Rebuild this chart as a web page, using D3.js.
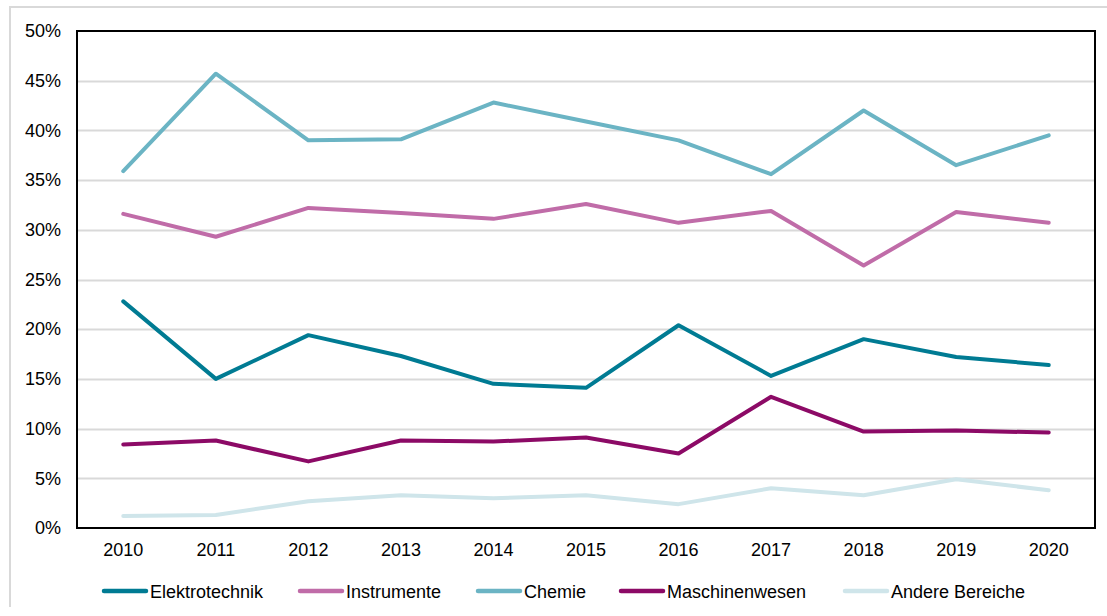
<!DOCTYPE html>
<html lang="de">
<head>
<meta charset="UTF-8">
<title>Anteile nach Bereichen 2010-2020</title>
<script src="https://d3js.org/d3.v7.min.js"></script>
<style>
html, body { margin: 0; padding: 0; background: #fff; }
svg { display: block; font-family: "Liberation Sans", Arial, sans-serif; }
</style>
</head>
<body>
<script>
const years = [2010, 2011, 2012, 2013, 2014, 2015, 2016, 2017, 2018, 2019, 2020];
const yTicks = [0, 5, 10, 15, 20, 25, 30, 35, 40, 45, 50];

const elektrotechnik = [22.8, 15.0, 19.4, 17.3, 14.5, 14.1, 20.4, 15.3, 19.0, 17.2, 16.4];
const instrumente    = [31.6, 29.3, 32.2, 31.7, 31.1, 32.6, 30.7, 31.9, 26.4, 31.8, 30.7];
const chemie         = [35.9, 45.7, 39.0, 39.1, 42.8, 40.9, 39.0, 35.6, 42.0, 36.5, 39.5];
const maschinenwesen = [8.4, 8.8, 6.7, 8.8, 8.7, 9.1, 7.5, 13.2, 9.7, 9.8, 9.6];
const andere         = [1.2, 1.3, 2.7, 3.3, 3.0, 3.3, 2.4, 4.0, 3.3, 4.9, 3.8];

const seriesNames = ['Elektrotechnik', 'Instrumente', 'Chemie', 'Maschinenwesen', 'Andere Bereiche'];
const seriesValues = [elektrotechnik, instrumente, chemie, maschinenwesen, andere];
const seriesColors = ['#007b93', '#c06ca8', '#6bb4c4', '#8c0a66', '#cfe5ea'];

const w = 1107, h = 616;
const margin = {left: 77, top: 31, right: 12, bottom: 88};
const fontFamily = '"Liberation Sans", Arial, sans-serif';

const svg = d3.select('body').append('svg').attr('width', w).attr('height', h);

// outer frame (top and left edges visible)
svg.append('path').attr('d', 'M10,607V7H' + w)
    .attr('fill', 'none').attr('stroke', '#d9d9d9').attr('stroke-width', 2);

const xScale = d3.scaleBand().domain(years).range([margin.left, w - margin.right]);
const yScale = d3.scaleLinear().domain([0, 50]).range([h - margin.bottom, margin.top]);

// gridlines
svg.append('g').selectAll('line').data(yTicks.slice(1, -1)).enter().append('line')
    .attr('x1', margin.left).attr('x2', w - margin.right)
    .attr('y1', d => Math.round(yScale(d)) + 0.5).attr('y2', d => Math.round(yScale(d)) + 0.5)
    .attr('stroke', '#d9d9d9').attr('stroke-width', 2);

// y labels
const yAxis = d3.axisLeft(yScale).tickValues(yTicks).tickFormat(d => d + '%').tickSize(0).tickPadding(16);
const yg = svg.append('g').attr('transform', 'translate(' + margin.left + ',0)').call(yAxis);
yg.select('.domain').remove();
yg.selectAll('text').attr('font-size', 18).attr('fill', '#000').attr('font-family', fontFamily);

// x labels
const xAxis = d3.axisBottom(xScale).tickSize(0).tickPadding(15);
const xg = svg.append('g').attr('transform', 'translate(0,' + (h - margin.bottom) + ')').call(xAxis);
xg.select('.domain').remove();
xg.selectAll('text').attr('font-size', 18).attr('fill', '#000').attr('font-family', fontFamily);

// lines
const line = d3.line()
    .x((d, i) => xScale(years[i]) + xScale.bandwidth() / 2)
    .y(d => yScale(d));

svg.append('g').selectAll('path').data(seriesValues).enter().append('path')
    .attr('d', d => line(d))
    .attr('fill', 'none')
    .attr('stroke', (d, i) => seriesColors[i])
    .attr('stroke-width', 4)
    .attr('stroke-linejoin', 'round')
    .attr('stroke-linecap', 'round');

// plot frame
svg.append('rect')
    .attr('x', margin.left).attr('y', margin.top)
    .attr('width', w - margin.right - margin.left).attr('height', h - margin.bottom - margin.top)
    .attr('fill', 'none').attr('stroke', '#000').attr('stroke-width', 2);

// legend
const legendX = [104, 300, 478, 621, 845];
const legend = svg.append('g').selectAll('g').data(seriesNames).enter().append('g')
    .attr('transform', (d, i) => 'translate(' + legendX[i] + ',591)');
legend.append('line').attr('x1', 0).attr('x2', 42).attr('y1', 0).attr('y2', 0)
    .attr('stroke', (d, i) => seriesColors[i]).attr('stroke-width', 4.5).attr('stroke-linecap', 'round');
legend.append('text').attr('x', 46).attr('y', 6.5).attr('font-size', 18).attr('fill', '#000').text(d => d);
</script>
</body>
</html>
